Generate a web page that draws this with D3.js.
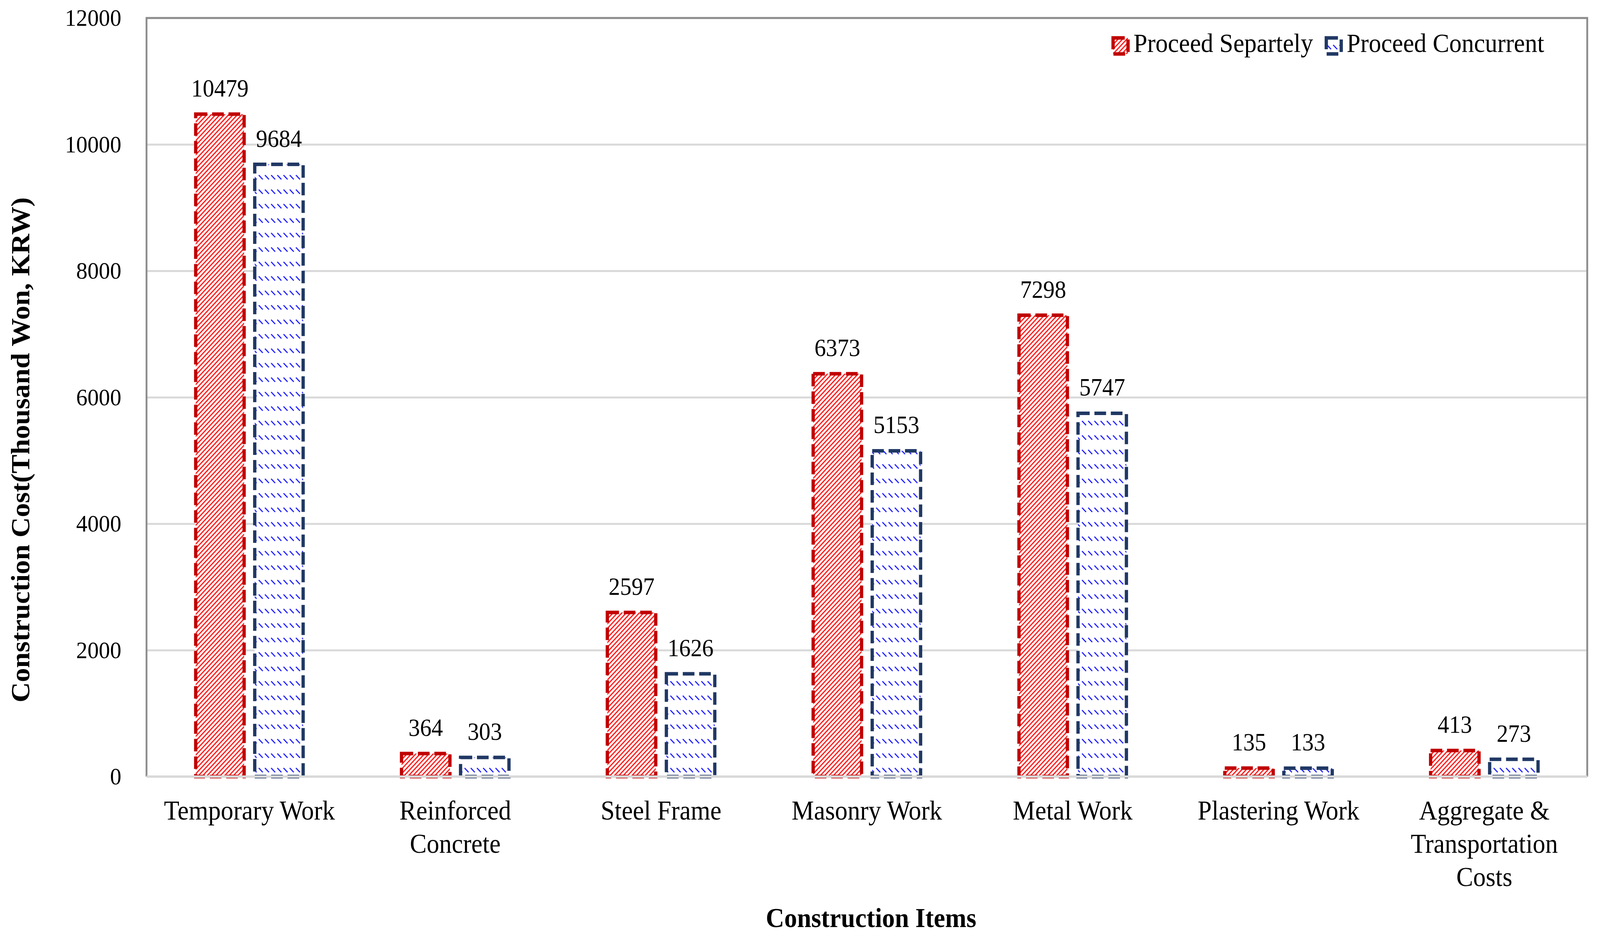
<!DOCTYPE html>
<html><head><meta charset="utf-8">
<script src="https://cdn.jsdelivr.net/npm/d3@7"></script>
<style>html,body{margin:0;padding:0;background:#fff;overflow:hidden;width:100%;height:100%}svg{display:block}</style>
</head><body><svg id="c" viewBox="0 0 4390 2400" preserveAspectRatio="none" style="width:100vw;height:100vh"></svg>
<script>
const categories = ["Temporary Work","Reinforced Concrete","Steel Frame","Masonry Work","Metal Work","Plastering Work","Aggregate & Transportation Costs"];
const seriesNames = ["Proceed Separtely","Proceed Concurrent"];
const separately = [10479,364,2597,6373,7298,135,413];
const concurrent = [9684,303,1626,5153,5747,133,273];
const yTicks = [0,2000,4000,6000,8000,10000,12000];
const xTitle = "Construction Items";
const yTitle = "Construction Cost(Thousand Won, KRW)";

const FONT = "'Liberation Serif', 'Times New Roman', serif";
const L = 402, R = 4355, T = 46, B = 1987;
const svg = d3.select("#c");
svg.append("rect").attr("width",4390).attr("height",2400).attr("fill","#fff");

const defs = svg.append("defs");
const pr = defs.append("pattern").attr("id","pRed").attr("patternUnits","userSpaceOnUse").attr("width",12).attr("height",12);
pr.append("rect").attr("width",12).attr("height",12).attr("fill","#fff");
pr.append("path").attr("d","M-3,3 L3,-3 M0,12 L12,0 M9,15 L15,9").attr("stroke","#ff1a1a").attr("stroke-width",3.2);
const pb = defs.append("pattern").attr("id","pBlue").attr("patternUnits","userSpaceOnUse").attr("width",17).attr("height",37);
pb.append("rect").attr("width",17).attr("height",37).attr("fill","#fff");
pb.append("path").attr("d","M3,4 L14,15").attr("stroke","#1a1aff").attr("stroke-width",3);

const fills = ["url(#pRed)","url(#pBlue)"];
const strokes = ["#c00000","#203864"];

const y = d3.scaleLinear().domain([0,12000]).range([B,T]);
const x0 = d3.scaleBand().domain(categories).range([L,R]).paddingInner(0.478).paddingOuter(0.239);
const x1 = d3.scaleBand().domain(seriesNames).range([0,x0.bandwidth()]).paddingInner(0.18);

// gridlines
const gy = svg.append("g").attr("transform",`translate(${L},0)`)
  .call(d3.axisLeft(y).tickValues(yTicks).tickSize(-(R-L)).tickFormat(""));
gy.select(".domain").remove();
gy.selectAll("line").attr("stroke","#d9d9d9").attr("stroke-width",5);

// frame
svg.append("path").attr("d",`M${L},${B} L${L},${y(12000)} L${R},${y(12000)} L${R},${B}`)
  .attr("fill","none").attr("stroke","#8c8c8c").attr("stroke-width",5);

// y tick labels
const ya = svg.append("g").attr("transform",`translate(${L-69},0)`)
  .call(d3.axisLeft(y).tickValues(yTicks).tickSize(0).tickPadding(0).tickFormat(d3.format("d")));
ya.select(".domain").remove();
ya.selectAll("text").attr("font-family",FONT).attr("font-size",62).attr("fill","#000").attr("dy","0.32em");

const data = categories.map((c,i)=>({cat:c, vals:[separately[i],concurrent[i]]}));
const groups = svg.append("g").selectAll("g").data(data).join("g")
  .attr("transform",d=>`translate(${x0(d.cat)},0)`);
groups.selectAll("rect").data(d=>d.vals.map((v,j)=>({v,j}))).join("rect")
  .attr("x",d=>x1(seriesNames[d.j])).attr("y",d=>y(d.v))
  .attr("width",x1.bandwidth()).attr("height",d=>y(0)-y(d.v))
  .attr("fill",d=>fills[d.j]).attr("stroke",d=>strokes[d.j]).attr("stroke-width",9)
  .attr("stroke-dasharray","32,13");
groups.selectAll("text").data(d=>d.vals.map((v,j)=>({v,j}))).join("text")
  .attr("x",d=>x1(seriesNames[d.j])+x1.bandwidth()/2).attr("y",d=>y(d.v)-45)
  .attr("text-anchor","middle").attr("font-family",FONT).attr("font-size",63).attr("fill","#000")
  .text(d=>d.v);

// bottom axis line
svg.append("line").attr("x1",L).attr("x2",R).attr("y1",B).attr("y2",B).attr("stroke","#d9d9d9").attr("stroke-width",6);

// x axis labels
const xa = svg.append("g").attr("transform",`translate(0,${B})`)
  .call(d3.axisBottom(x0).tickSize(0).tickPadding(0));
xa.select(".domain").remove();
xa.selectAll("text").attr("font-family",FONT).attr("font-size",69).attr("fill","#000").attr("dy",null).attr("y",0)
  .each(function(d){
    const t = d3.select(this); const words = d.split(" "); t.text(null);
    let lines=[], cur=[];
    const tmp = t.append("tspan");
    words.forEach(w=>{ const test=[...cur,w].join(" "); tmp.text(test);
      if(tmp.node().getComputedTextLength()>510 && cur.length){ lines.push(cur.join(" ")); cur=[w]; } else cur.push(w); });
    lines.push(cur.join(" ")); tmp.remove();
    lines.forEach((ln,i)=>t.append("tspan").attr("x",0).attr("y",110+i*85).text(ln));
  });

// axis titles
svg.append("text").attr("x",2390).attr("y",2372).attr("text-anchor","middle").attr("font-family",FONT)
  .attr("font-weight","bold").attr("font-size",70).attr("fill","#000").text(xTitle);
svg.append("text").attr("transform","translate(80,1151) rotate(-90)").attr("text-anchor","middle").attr("font-family",FONT)
  .attr("font-weight","bold").attr("font-size",72).attr("fill","#000").text(yTitle);

// legend
const lg = svg.append("g");
const lx = [3050, 3635];
seriesNames.forEach((s,i)=>{
  lg.append("rect").attr("x",lx[i]+4).attr("y",97).attr("width",41).attr("height",41)
    .attr("fill",fills[i]).attr("stroke",strokes[i]).attr("stroke-width",9).attr("stroke-dasharray","32,13");
  lg.append("text").attr("x",lx[i]+60).attr("y",133).attr("font-family",FONT).attr("font-size",68).attr("fill","#000").text(s);
});
</script></body></html>
